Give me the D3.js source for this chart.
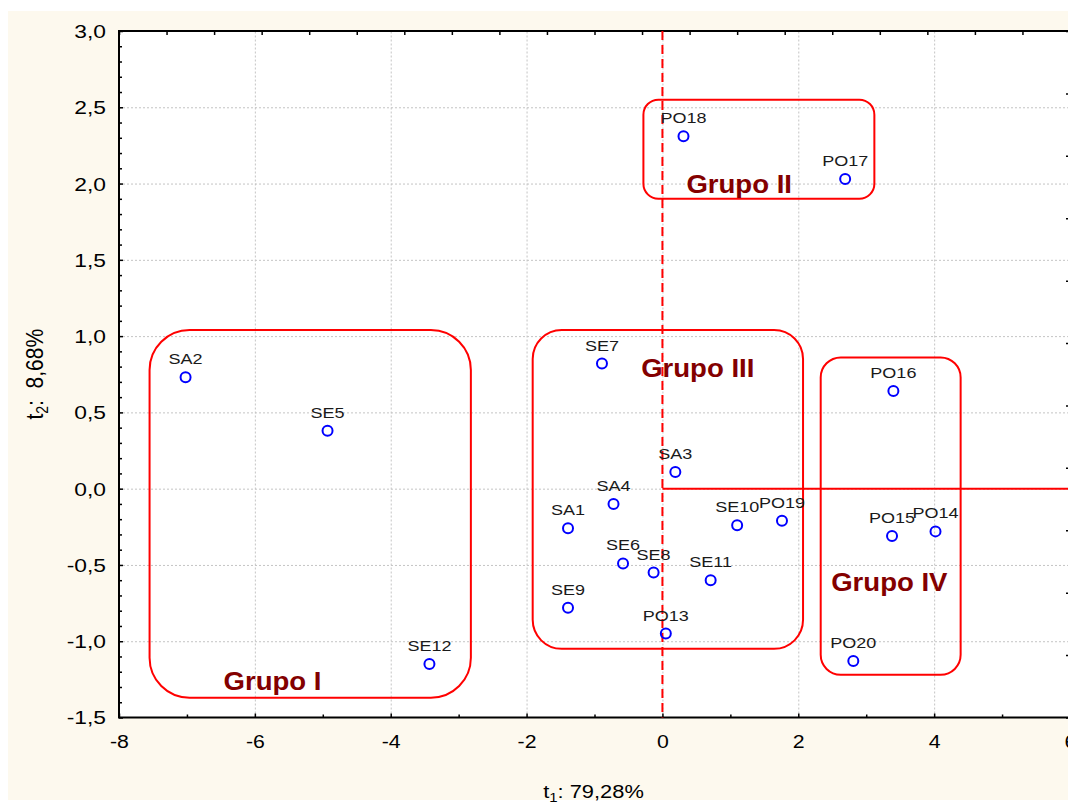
<!DOCTYPE html>
<html>
<head>
<meta charset="utf-8">
<script src="https://cdn.jsdelivr.net/npm/d3@7"></script>
<style>
  body { margin: 0; background: #ffffff; }
  svg { display: block; }
  text { font-family: "Liberation Sans", Arial, sans-serif; }
</style>
</head>
<body>
<svg id="chart" width="1068" height="810"></svg>
<script>
// Sample scores on the first two components
const sampleNames = ["SA2", "SE5", "SE12", "SE7", "SA3", "SA4", "SA1", "SE6", "SE8", "SE9",
                     "PO13", "SE11", "SE10", "PO19", "PO18", "PO17", "PO16", "PO15", "PO14", "PO20"];
const t1Scores = [-7.02, -4.93, -3.43, -0.89, 0.19, -0.72, -1.39, -0.58, -0.13, -1.39,
                  0.05, 0.71, 1.10, 1.76, 0.31, 2.69, 3.40, 3.38, 4.02, 2.81];
const t2Scores = [0.73, 0.38, -1.15, 0.82, 0.11, -0.10, -0.26, -0.49, -0.55, -0.78,
                  -0.95, -0.60, -0.24, -0.21, 2.31, 2.03, 0.64, -0.31, -0.28, -1.13];

// Axis ticks
const xTickValues = [-8, -6, -4, -2, 0, 2, 4, 6];
const yTickValues = [-1.5, -1.0, -0.5, 0.0, 0.5, 1.0, 1.5, 2.0, 2.5, 3.0];
const xAxisTitle = "t";
const xAxisSub = "1";
const xAxisRest = ": 79,28%";
const yAxisTitle = "t";
const yAxisSub = "2";
const yAxisRest = ":  8,68%";

// Group enclosures (score-space bounds) and their captions
const groupNames = ["Grupo I", "Grupo II", "Grupo III", "Grupo IV"];
const groupT1Min = [-7.55, -0.28, -1.91, 2.33];
const groupT1Max = [-2.82, 3.12, 2.07, 4.39];
const groupT2Min = [-1.37, 1.90, -1.05, -1.22];
const groupT2Max = [1.04, 2.55, 1.04, 0.86];
const groupLabelT1 = [-5.74, 1.13, 0.52, 3.34];
const groupLabelT2 = [-1.32, 1.94, 0.73, -0.67];

// ---- layout ----
const svg = d3.select("#chart");
const plot = { left: 119, right: 1070, top: 31, bottom: 717.5 };
const groupRadius = [40, 15, 29, 20];

const x = d3.scaleLinear().domain([-8, 6]).range([plot.left, plot.right]);
const y = d3.scaleLinear().domain([-1.5, 3.0]).range([plot.bottom, plot.top]);

const fmtDec = d => d.toFixed(1).replace(".", ",");
const fmtInt = d => String(d);

// page background
svg.append("rect").attr("x", 0).attr("y", 0).attr("width", 1068).attr("height", 810).attr("fill", "#ffffff");
svg.append("rect").attr("x", 8).attr("y", 11).attr("width", 1060).attr("height", 789).attr("fill", "#fdf9ee");
svg.append("rect").attr("x", plot.left).attr("y", plot.top)
  .attr("width", plot.right - plot.left).attr("height", plot.bottom - plot.top).attr("fill", "#ffffff");

// dotted grid
const grid = svg.append("g").attr("class", "grid");
grid.append("g").attr("transform", `translate(0,${plot.bottom})`)
  .call(d3.axisBottom(x).tickValues(xTickValues.slice(1, -1)).tickSize(-(plot.bottom - plot.top)).tickFormat(""));
grid.append("g").attr("transform", `translate(${plot.left},0)`)
  .call(d3.axisLeft(y).tickValues(yTickValues.slice(1, -1)).tickSize(-(plot.right - plot.left)).tickFormat(""));
grid.selectAll(".domain").remove();
grid.selectAll("line").attr("stroke", "#c4c4c4").attr("stroke-width", 1).attr("stroke-dasharray", "2,2");

// horizontally stretched text helper
function stretch(sel, sx) {
  sel.each(function () {
    const t = d3.select(this);
    const tx = +t.attr("x") || 0;
    t.attr("x", tx / sx).attr("transform", `scale(${sx},1)`);
  });
}

// minor ticks
const minorX = d3.range(-8, 6.001, 1).filter(v => !xTickValues.includes(v));
const minorY = d3.range(-15, 31, 1).map(v => v / 10).filter(v => !yTickValues.some(t => Math.abs(t - v) < 1e-9));

const axes = svg.append("g").attr("class", "axes");
axes.append("g").attr("transform", `translate(0,${plot.bottom})`)
  .call(d3.axisBottom(x).tickValues(minorX).tickSize(-3).tickSizeOuter(0).tickFormat(""))
  .call(g => g.select(".domain").remove());
axes.append("g").attr("transform", `translate(${plot.left},0)`)
  .call(d3.axisLeft(y).tickValues(minorY).tickSize(-3).tickSizeOuter(0).tickFormat(""))
  .call(g => g.select(".domain").remove());

// major axes with labels
const xAxisG = axes.append("g").attr("transform", `translate(0,${plot.bottom})`)
  .call(d3.axisBottom(x).tickValues(xTickValues).tickSize(-4).tickSizeOuter(0).tickPadding(17).tickFormat(fmtInt));
const yAxisG = axes.append("g").attr("transform", `translate(${plot.left},0)`)
  .call(d3.axisLeft(y).tickValues(yTickValues).tickSize(-4).tickSizeOuter(0).tickPadding(13).tickFormat(fmtDec));
[xAxisG, yAxisG].forEach(g => {
  g.select(".domain").remove();
  g.selectAll("text").attr("font-size", 19).attr("fill", "#000").attr("font-family", "Liberation Sans, Arial, sans-serif");
});
stretch(xAxisG.selectAll("text"), 1.12);
stretch(yAxisG.selectAll("text"), 1.2);
yAxisG.selectAll("text").attr("dy", "0.34em");

// top and right mirrored tick marks
const topScale = d3.scaleLinear().domain([0, 20]).range([plot.left, plot.right]);
axes.append("g").attr("transform", `translate(0,${plot.top})`)
  .call(d3.axisTop(topScale).ticks(20).tickSize(-4).tickSizeOuter(0).tickFormat(""))
  .call(g => g.select(".domain").remove());
const rightScale = d3.scaleLinear().domain([0, 55]).range([plot.bottom, plot.top]);
axes.append("g").attr("transform", `translate(${plot.right},0)`)
  .call(d3.axisRight(rightScale).tickValues(d3.range(0, 56).filter(v => v % 5 !== 0)).tickSize(-2).tickSizeOuter(0).tickFormat(""))
  .call(g => g.select(".domain").remove());
axes.append("g").attr("transform", `translate(${plot.right},0)`)
  .call(d3.axisRight(rightScale).tickValues(d3.range(0, 56, 5)).tickSize(-4).tickSizeOuter(0).tickFormat(""))
  .call(g => g.select(".domain").remove());
axes.selectAll("line").attr("stroke", "#000").attr("stroke-width", 1.5);

// frame
svg.append("rect").attr("x", plot.left).attr("y", plot.top)
  .attr("width", plot.right - plot.left).attr("height", plot.bottom - plot.top)
  .attr("fill", "none").attr("stroke", "#000").attr("stroke-width", 2);

// reference lines at origin
svg.append("line").attr("x1", x(0)).attr("x2", x(0)).attr("y1", plot.top).attr("y2", plot.bottom)
  .attr("stroke", "#ff0000").attr("stroke-width", 2).attr("stroke-dasharray", "9,5");
svg.append("line").attr("x1", x(0)).attr("x2", plot.right).attr("y1", y(0)).attr("y2", y(0))
  .attr("stroke", "#ff0000").attr("stroke-width", 2);

// group enclosures
const groups = groupNames.map((name, i) => ({
  name, x0: groupT1Min[i], x1: groupT1Max[i], y0: groupT2Min[i], y1: groupT2Max[i],
  lx: groupLabelT1[i], ly: groupLabelT2[i], r: groupRadius[i]
}));
svg.append("g").selectAll("rect").data(groups).join("rect")
  .attr("x", d => x(d.x0)).attr("y", d => y(d.y1))
  .attr("width", d => x(d.x1) - x(d.x0)).attr("height", d => y(d.y0) - y(d.y1))
  .attr("rx", d => d.r).attr("ry", d => d.r)
  .attr("fill", "none").attr("stroke", "#ff0000").attr("stroke-width", 2);

// sample points and their names
const samples = sampleNames.map((n, i) => ({ n, t1: t1Scores[i], t2: t2Scores[i] }));
svg.append("g").selectAll("circle").data(samples).join("circle")
  .attr("cx", d => x(d.t1)).attr("cy", d => y(d.t2)).attr("r", 5)
  .attr("fill", "none").attr("stroke", "#0000ff").attr("stroke-width", 2);
svg.append("g").selectAll("text").data(samples).join("text")
  .attr("transform", d => `translate(${x(d.t1)},${y(d.t2) - 13}) scale(1.17,1)`)
  .attr("text-anchor", "middle").attr("font-size", 15.4).attr("fill", "#1a1a1a")
  .text(d => d.n);

// group captions
svg.append("g").selectAll("text").data(groups).join("text")
  .attr("transform", d => `translate(${x(d.lx)},${y(d.ly)}) scale(1.04,1)`)
  .attr("text-anchor", "middle").attr("font-size", 26.5).attr("font-weight", "bold").attr("fill", "#830000")
  .text(d => d.name);

// axis titles
const xt = svg.append("text")
  .attr("transform", `translate(${(plot.left + 1068) / 2},798) scale(1.15,1)`)
  .attr("text-anchor", "middle").attr("font-size", 19).attr("fill", "#000");
xt.append("tspan").text(xAxisTitle);
xt.append("tspan").attr("font-size", 13).attr("dy", 4).text(xAxisSub);
xt.append("tspan").attr("dy", -4).text(xAxisRest);

const yt = svg.append("text")
  .attr("transform", `translate(43,${(plot.top + plot.bottom) / 2}) rotate(-90) scale(1,1.13)`)
  .attr("text-anchor", "middle").attr("font-size", 21).attr("fill", "#000")
  .attr("xml:space", "preserve").style("white-space", "pre");
yt.append("tspan").text(yAxisTitle);
yt.append("tspan").attr("font-size", 14).attr("dy", 4).text(yAxisSub);
yt.append("tspan").attr("dy", -4).text(yAxisRest);
</script>
</body>
</html>
